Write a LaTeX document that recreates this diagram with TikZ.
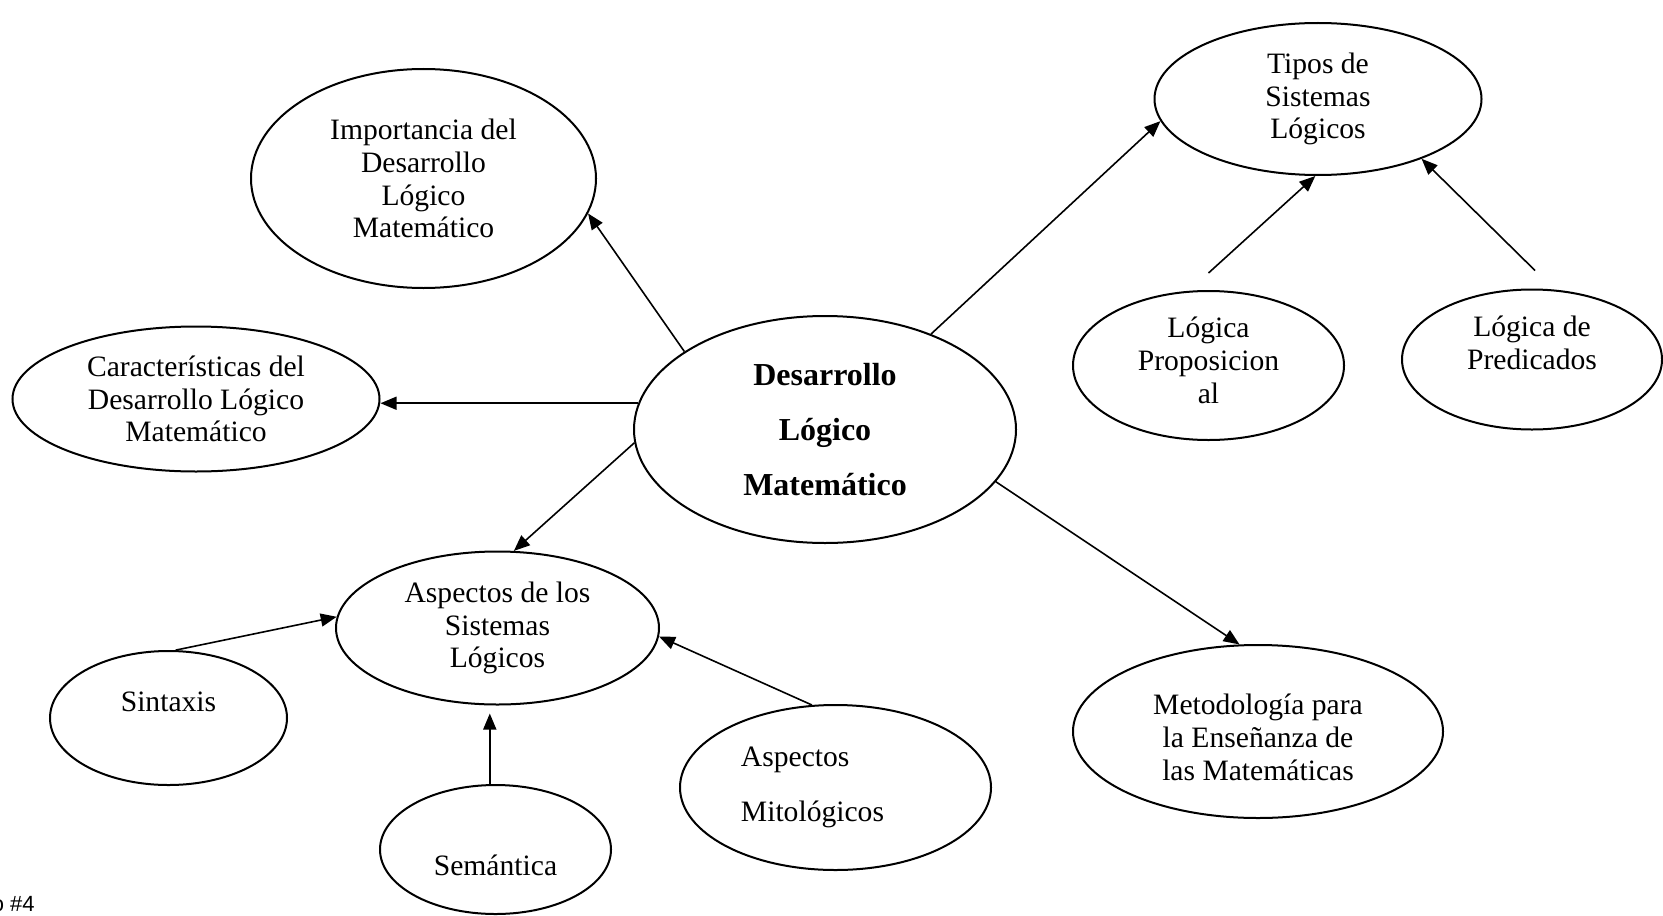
\documentclass[tikz,border=0pt]{standalone}
\usepackage{fontspec}
\setmainfont{Liberation Serif}
\newfontfamily\figfont{Liberation Sans}
\usetikzlibrary{shapes.geometric,arrows.meta}

\tikzstyle{concept}=[ellipse, draw=black, line width=1pt, inner sep=0pt, align=center, font=\fontsize{14.8}{16.4}\selectfont]
\tikzstyle{spaced}=[font=\fontsize{14.8}{27.6}\selectfont]
\tikzstyle{main}=[font=\bfseries\fontsize{16}{27.6}\selectfont]
\tikzstyle{link}=[line width=0.8pt, ->]

\begin{document}
\begin{tikzpicture}[x=0.5pt, y=-0.5pt, >={Triangle[length=8pt,width=6.5pt]}] % y runs downwards
  \useasboundingbox (0,0) rectangle (1663,915);

  % central node
  \node [concept, main, minimum width=191pt, minimum height=113.5pt] (central) at (825,429.5) {Desarrollo\\Lógico\\Matemático};

  % left branch
  \node [concept, minimum width=172.5pt, minimum height=109.5pt] (importancia) at (423.5,178.5) {Importancia del\\Desarrollo\\Lógico\\Matemático};
  \node [concept, minimum width=183.5pt, minimum height=72.5pt] (caracteristicas) at (196,399) {Características del\\Desarrollo Lógico\\Matemático};

  % right branch
  \node [concept, minimum width=163.5pt, minimum height=76pt] (tipos) at (1318,99) {Tipos de\\Sistemas\\Lógicos};
  \node [concept, minimum width=135.5pt, minimum height=74.5pt] (proposicional) at (1208.5,365.5) {Lógica\\Proposicion\\al\\[-11pt]\mbox{}};
  \node [concept, minimum width=130pt, minimum height=70pt] (predicados) at (1532,359.5) {Lógica de\\Predicados\\\mbox{}};
  \node [concept, minimum width=185pt, minimum height=86.5pt] (metodologia) at (1258,731.5) {\mbox{}\\Metodología para\\la Enseñanza de\\las Matemáticas};

  % lower branch
  \node [concept, minimum width=161.5pt, minimum height=76.5pt] (aspectos) at (497.5,628) {Aspectos de los\\Sistemas\\Lógicos};
  \node [concept, minimum width=118.5pt, minimum height=67pt] (sintaxis) at (168.5,718) {Sintaxis\\\mbox{}};
  \node [concept, minimum width=115.5pt, minimum height=64.5pt] (semantica) at (495.5,849.5) {\mbox{}\\[9.6pt]Semántica};
  \node [concept, spaced, align=left, minimum width=155.5pt, minimum height=82.5pt] (mitologicos) at (835.5,787.5) {Aspectos\\Mitológicos\hspace*{23pt}};

  % figure number, cut off at the left edge
  \node [font=\figfont\fontsize{11}{13}\selectfont, anchor=base east, inner sep=0pt] (caption) at (35,911) {o \#4};

  % connections from the central node
  \foreach \a/\b in {central.151/importancia.348, central.184/aspectos.78, central.42/tipos.188, central.343/metodologia.102}
  \draw [link] (\a) -- (\b);
  \draw [link] (central.172) -- (central.172 -| caracteristicas.east);

  % connections into the two sub-topics
  \draw [link] (proposicional.north) ++(0,-17) -- (tipos.268);
  \draw [link] (predicados.north) ++(3,-18) -- (tipos.330);
  \foreach \a/\b in {sintaxis.84/aspectos.176, mitologicos.106/aspectos.357}
  \draw [link] (\a) -- (\b);
  \draw [link, shorten >=4pt] (semantica.95) -- (semantica.95 |- aspectos.south);
\end{tikzpicture}
\end{document}
